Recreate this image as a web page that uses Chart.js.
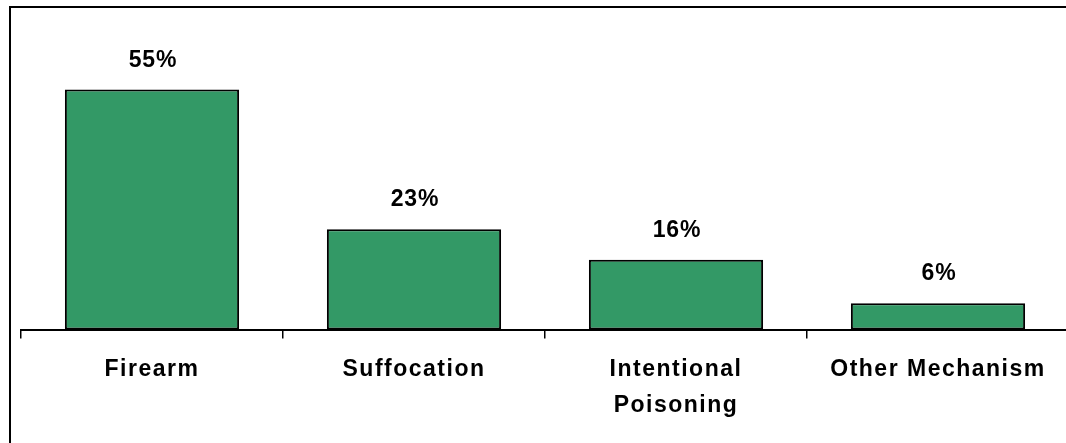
<!DOCTYPE html>
<html>
<head>
<meta charset="utf-8">
<script src="https://cdn.jsdelivr.net/npm/chart.js@4/dist/chart.umd.min.js"></script>
<style>
  html, body { margin: 0; padding: 0; background: #fff; overflow: hidden; width: 1066px; height: 443px; }
  #wrap { position: absolute; left: 0; top: 0; width: 1080px; height: 443px; }
</style>
</head>
<body>
<div id="wrap"><canvas id="c" width="1080" height="443"></canvas></div>
<script>
const categories = [['Firearm'], ['Suffocation'], ['Intentional', 'Poisoning'], ['Other Mechanism']];
const values = [55, 23, 16, 6];
const valueLabels = ['55%', '23%', '16%', '6%'];

const FONT = '"Liberation Sans", Arial, Helvetica, sans-serif';
const AXIS_Y = 329.5;

const framePlugin = {
  id: 'frame',
  beforeDraw(chart) {
    const ctx = chart.ctx;
    ctx.save();
    ctx.fillStyle = '#ffffff';
    ctx.fillRect(0, 0, chart.width, chart.height);
    ctx.strokeStyle = '#000000';
    ctx.lineWidth = 2;
    ctx.strokeRect(10, 7, 3000, 3000);
    ctx.restore();
    ctx.letterSpacing = '1.5px';
  }
};

const labelPlugin = {
  id: 'valueLabels',
  afterDatasetsDraw(chart) {
    const ctx = chart.ctx;
    const meta = chart.getDatasetMeta(0);
    ctx.save();
    ctx.letterSpacing = '0.8px';
    ctx.font = 'bold 23px ' + FONT;
    ctx.fillStyle = '#000000';
    ctx.textAlign = 'center';
    ctx.textBaseline = 'alphabetic';
    meta.data.forEach((bar, i) => {
      ctx.fillText(valueLabels[i], bar.x + 1, bar.y - 23);
    });
    ctx.restore();
  }
};

new Chart(document.getElementById('c'), {
  type: 'bar',
  data: {
    labels: categories,
    datasets: [{
      data: values,
      backgroundColor: '#339966',
      borderColor: '#000000',
      borderWidth: 2,
      borderSkipped: false,
      categoryPercentage: 1.0,
      barPercentage: 0.665
    }]
  },
  options: {
    responsive: false,
    animation: false,
    devicePixelRatio: 1,
    layout: { padding: { left: 21, right: 11, top: 67.7, bottom: 0 } },
    plugins: { legend: { display: false }, tooltip: { enabled: false } },
    scales: {
      y: { display: false, min: 0, max: 60 },
      x: {
        afterFit(scale) { scale.height = 443 - AXIS_Y; },
        border: { display: true, color: '#000000', width: 2 },
        grid: { display: true, drawOnChartArea: false, drawTicks: true, tickLength: 9, color: '#000000', lineWidth: 1.5, offset: true },
        ticks: {
          color: '#000000',
          padding: 13,
          maxRotation: 0,
          autoSkip: false,
          font: { family: FONT, size: 23, weight: 'bold', lineHeight: 1.57 }
        }
      }
    }
  },
  plugins: [framePlugin, labelPlugin]
});
</script>
</body>
</html>
